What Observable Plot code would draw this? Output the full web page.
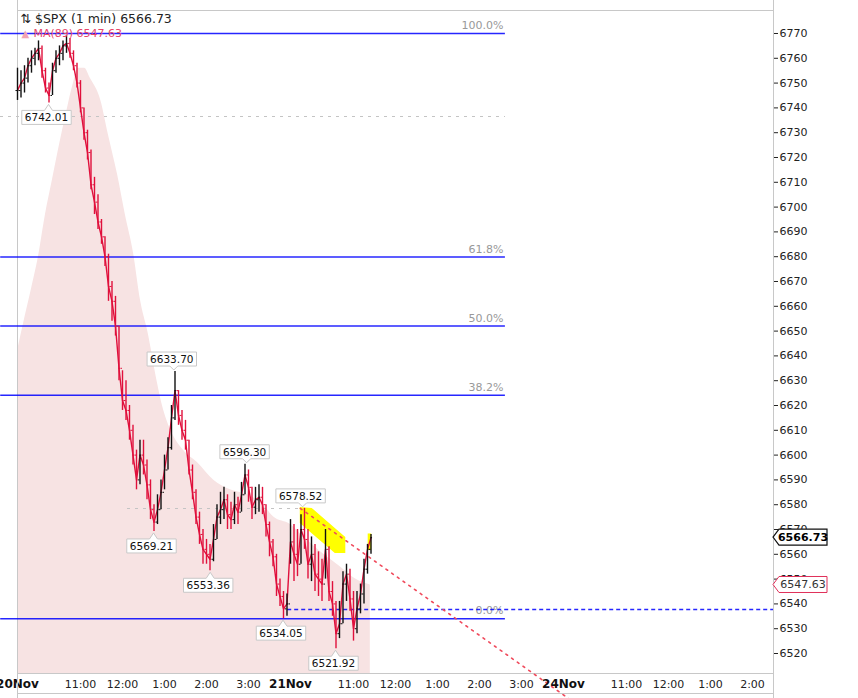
<!DOCTYPE html>
<html>
<head>
<meta charset="utf-8">
<script src="https://cdn.jsdelivr.net/npm/d3@7"></script>
<script src="https://cdn.jsdelivr.net/npm/@observablehq/plot@0.6"></script>
<style>
  html, body { margin: 0; padding: 0; background: #fff; }
  svg { display: block; }
</style>
</head>
<body>
<div id="chart"></div>
<script>
// ---------- DATA ----------
// 5-minute bars, session-minute index (20Nov 9:30 = 0, 21Nov 9:30 = 390)
const barHigh = [6756,6755,6757,6760,6763,6764,6767,6765,6756,6750,6758,6763,6765,6767,6769,6768,6763,6758,6751,6740,
  6731,6723,6712,6705,6695,6688,6681,6670,6664,6652,6634,6630,6620,6612,6602,6606,6606,6598,6590,6580,
  6584,6590,6600,6607,6620,6633.70,6626,6618,6614,6606,6596,6586,6577,6570,6566,6564,6572,6580,6585,6587,
  6584,6581,6585,6583,6589,6596.30,6594,6587,6587,6588,6587,6580,6573,6566,6560,6550,6545,6544,
  6574,6572,6570,6576,6578.52,6570,6567,6564,6561,6558,6570,6563,6549,6541,6541,6553,6556,6554,6545,6545,6548,6558,6564,6568];
const barLow = [6743,6744,6746,6750,6754,6757,6759,6752,6746,6742.01,6745,6754,6757,6759,6762,6760,6755,6748,6738,6727,
  6719,6707,6697,6691,6685,6676,6662,6654,6648,6630,6618,6614,6606,6596,6586,6588,6592,6582,6574,6569.21,
  6572,6578,6586,6594,6602,6614,6612,6606,6602,6592,6582,6572,6564,6556,6556,6553.36,6557,6566,6572,6574,
  6570,6570,6572,6572,6577,6584,6581,6574,6576,6577,6576,6567,6559,6555,6543,6539,6534.05,6535,
  6556,6549,6551,6556,6562,6550,6549,6545,6543,6541,6550,6541,6535,6521.92,6526,6532,6541,6537,6525,6528,6536,6540,6552,6560];
const barClose = [6747,6750,6752,6757,6760,6762,6764,6755,6748,6745,6755,6760,6762,6765,6766,6762,6757,6750,6740,6730,
  6722,6709,6702,6694,6688,6680,6668,6662,6652,6635,6622,6618,6610,6600,6590,6600,6596,6588,6578,6573,
  6578,6585,6594,6603,6615,6626,6616,6610,6606,6594,6585,6575,6568,6562,6560,6558,6566,6575,6578,6582,
  6576,6574,6580,6577,6584,6592,6587,6579,6582,6583,6580,6572,6565,6559,6548,6543,6538,6540,
  6565,6560,6556,6570,6566,6556,6560,6552,6550,6548,6562,6545,6540,6528,6532,6548,6552,6542,6530,6538,6544,6554,6562,6566.73];

// MA(89) shaded profile
const maIdx = [0,11,20,30,40,50,60,70,80,87,96,104,119,130,143,154,166,176,186,200,207,219,237,257,280,304,329,351,366,390,409,433,461,483,504];
const maVal = [6642,6656,6667,6680,6697,6711,6725,6738,6750,6756,6756,6752,6743,6729,6713,6697,6681,6662,6650,6629,6620,6610,6602,6597,6590,6586,6584,6580,6575,6572,6567,6561,6555,6550,6547.63];

// Fibonacci retracement
const fibHigh = 6770.0, fibLow = 6534.05;
const fibRatios = [1, 0.618, 0.5, 0.382, 0];
const fibLabels = ["100.0%", "61.8%", "50.0%", "38.2%", "0.0%"];
const fibStart = -24, fibEnd = 697;

// other lines
const supportLevel = 6537.7, supportStart = 386, supportEnd = 1080;
const greyDot1 = {level: 6736.5, start: -24, end: 697};
const greyDot2 = {level: 6578.52, start: 157, end: 404};
const trendIdx = [404, 800];
const trendVal = [6578.52, 6499.3];

// yellow highlight along trend line
const hlIdx = [404, 421, 454, 469];
const hlLo  = [6572.4, 6568.3, 6560.3, 6560.3];
const hlHi  = [6578.9, 6578.5, 6570.4, 6566.8];
const hlBar = {x1: 501, x2: 506, y1: 6561.5, y2: 6568.2};

// annotations (high/low callouts)
const annIdx  = [45, 224, 328, 408, 195, 276, 380, 455];
const annVal  = [6742.01, 6633.70, 6596.30, 6578.52, 6569.21, 6553.36, 6534.05, 6521.92];
const annText = ["6742.01", "6633.70", "6596.30", "6578.52", "6569.21", "6553.36", "6534.05", "6521.92"];
const annPos  = ["below", "above", "above", "above", "below", "below", "below", "below"];

// axis ticks
const yTicks = d3.range(6520, 6771, 10);
const hourIdx = [90,150,210,270,330, 480,540,600,660,720, 870,930,990,1050];
const hourLabels = ["11:00","12:00","1:00","2:00","3:00","11:00","12:00","1:00","2:00","3:00","11:00","12:00","1:00","2:00"];
const dayIdx = [0, 390, 780];
const dayLabels = ["20Nov", "21Nov", "24Nov"];

const lastPrice = 6566.73, maLast = 6547.63;
const legendMain = "⇅ $SPX (1 min) 6566.73";
const legendMA = "MA(89) 6547.63";

// ---------- BUILD ----------
const RED = "#e0103c", BLACK = "#111", BLUE = "#0000ff";
const yMin = 6511.94, yMax = 6779.27;
const bars = barClose.map((c, i) => ({
  t: i * 5, hi: barHigh[i], lo: barLow[i], c,
  o: i === 0 ? c : barClose[i - 1],
  up: i === 0 ? true : c >= barClose[i - 1]
}));
const upBars = bars.filter(d => d.up), dnBars = bars.filter(d => !d.up);
const ma = maIdx.map((t, i) => ({t, v: maVal[i]}));
const fibs = fibRatios.map((r, i) => ({v: fibLow + r * (fibHigh - fibLow), label: fibLabels[i]}));
const hl = hlIdx.map((t, i) => ({t, lo: hlLo[i], hi: hlHi[i]}));
const trend = trendIdx.map((t, i) => ({t, v: trendVal[i]}));

const plot = Plot.plot({
  width: 858, height: 698,
  marginLeft: 17, marginRight: 85, marginTop: 10, marginBottom: 25,
  style: {fontFamily: "DejaVu Sans, sans-serif", fontSize: "11px", background: "#fff", overflow: "visible"},
  x: {type: "linear", domain: [0, 1080], axis: null},
  y: {domain: [yMin, yMax], axis: null},
  marks: [
    Plot.areaY(ma, {x: "t", y1: () => yMin, y2: "v", fill: "#f7e3e3", curve: "monotone-x"}),
    Plot.frame({stroke: "#c8c8c8", shapeRendering: "crispEdges"}),
    Plot.ruleY([greyDot1], {y: "level", x1: "start", x2: "end", stroke: "#c4c4c4", strokeDasharray: "3,5", shapeRendering: "crispEdges"}),
    Plot.ruleY([greyDot2], {y: "level", x1: "start", x2: "end", stroke: "#c4c4c4", strokeDasharray: "3,5", shapeRendering: "crispEdges"}),
    Plot.ruleY(fibs, {y: "v", x1: fibStart, x2: fibEnd, stroke: BLUE, strokeWidth: 1.5, strokeOpacity: 0.85}),
    Plot.text(fibs, {x: fibEnd, y: "v", text: "label", textAnchor: "end", dx: -2, dy: -8, fill: "#999", fontSize: 11}),
    Plot.ruleY([supportLevel], {x1: supportStart, x2: supportEnd, stroke: BLUE, strokeWidth: 1.5, strokeOpacity: 0.85, strokeDasharray: "4,3"}),
    Plot.areaY(hl, {x: "t", y1: "lo", y2: "hi", fill: "#ffff00"}),
    Plot.rect([hlBar], {x1: "x1", x2: "x2", y1: "y1", y2: "y2", fill: "#ffff00"}),
    Plot.line(bars, {x: "t", y: "c", stroke: RED, strokeWidth: 1.4}),
    Plot.ruleX(dnBars, {x: "t", y1: "lo", y2: "hi", stroke: RED, strokeWidth: 1.4}),
    Plot.ruleX(upBars, {x: "t", y1: "lo", y2: "hi", stroke: BLACK, strokeWidth: 1.4}),
    Plot.ruleY(dnBars, {y: "c", x1: "t", x2: d => d.t + 2.2, stroke: RED}),
    Plot.ruleY(upBars, {y: "c", x1: "t", x2: d => d.t + 2.2, stroke: BLACK}),
    Plot.ruleY(dnBars, {y: "o", x1: d => d.t - 2.2, x2: "t", stroke: RED}),
    Plot.ruleY(upBars, {y: "o", x1: d => d.t - 2.2, x2: "t", stroke: BLACK}),
    Plot.line(trend, {x: "t", y: "v", stroke: "#f04a5c", strokeWidth: 1.6, strokeDasharray: "2,5"}),
    Plot.axisY({anchor: "right", ticks: yTicks, tickSize: 4, tickPadding: 2, tickFormat: d => String(d), fontSize: 11, color: "#222"}),
    Plot.text(hourLabels, {x: hourIdx, text: d => d, frameAnchor: "bottom", dy: 11, lineAnchor: "middle", fontSize: 11, fill: "#222"}),
    Plot.text(dayLabels, {x: dayIdx, text: d => d, frameAnchor: "bottom", dy: 11, lineAnchor: "middle", fontSize: 12, fontWeight: "bold", fill: "#111"}),
    Plot.text([legendMain], {frameAnchor: "top-left", text: d => d, dx: 3, dy: 8, lineAnchor: "middle", textAnchor: "start", fontSize: 12.5, fill: "#222"}),
    Plot.text(["▲"], {frameAnchor: "top-left", text: d => d, dx: 4, dy: 23, lineAnchor: "middle", textAnchor: "start", fontSize: 10, fill: "#f2a3b3"}),
    Plot.text([legendMA], {frameAnchor: "top-left", text: d => d, dx: 16, dy: 23, lineAnchor: "middle", textAnchor: "start", fontSize: 11, fill: "#e8456a"})
  ]
});
document.getElementById("chart").appendChild(plot);

// ---------- callouts & price tags (positioned through Plot's scales) ----------
const sx = plot.scale("x"), sy = plot.scale("y");
const X = v => sx.apply(v), Y = v => sy.apply(v);
const svg = d3.select(plot);
const g = svg.append("g").attr("font-family", "DejaVu Sans, sans-serif").attr("font-size", 10.5);

annIdx.forEach((t, i) => {
  const px = X(t), py = Y(annVal[i]);
  const cx = px - 2;
  const txt = g.append("text").attr("x", cx).attr("text-anchor", "middle").attr("fill", "#111").text(annText[i]);
  const w = txt.node().getComputedTextLength() + 6, h = 14;
  const l = cx - w / 2, r = cx + w / 2;
  let path, ty;
  if (annPos[i] === "below") {
    const top = py + 8, bot = top + h;
    path = `M${l},${top}L${px - 4},${top}L${px},${py + 2}L${px + 4},${top}L${r},${top}L${r},${bot}L${l},${bot}Z`;
    ty = top + h / 2;
  } else {
    const bot = py - 5, top = bot - h;
    path = `M${l},${top}L${r},${top}L${r},${bot}L${px + 4},${bot}L${px},${py - 1}L${px - 4},${bot}L${l},${bot}Z`;
    ty = top + h / 2;
  }
  g.insert("path", "text").attr("d", path).attr("fill", "#fff").attr("stroke", "#c8c8c8");
  txt.attr("y", ty).attr("dy", "0.36em");
});
g.selectAll("text").raise();

function priceTag(v, label, stroke, bold, color) {
  const py = Y(v), x0 = 773, x1 = 779, x2 = 827;
  g.append("path")
    .attr("d", `M${x0},${py}L${x1},${py - 8}L${x2},${py - 8}L${x2},${py + 8}L${x1},${py + 8}Z`)
    .attr("fill", "#fff").attr("stroke", stroke).attr("stroke-width", bold ? 1.2 : 1);
  g.append("text").attr("x", 803).attr("y", py).attr("dy", "0.36em").attr("text-anchor", "middle")
    .attr("font-size", 11).attr("font-weight", bold ? "bold" : "normal").attr("fill", color).text(label);
}
priceTag(lastPrice, lastPrice.toFixed(2), "#111", true, "#000");
priceTag(maLast, maLast.toFixed(2), "#e0305a", false, "#333");

// panel borders above and below the main pane
const lines = [[17, 0, 17, 10], [773, 0, 773, 10], [17, 693, 773, 693], [17, 673, 17, 698], [773, 673, 773, 698]];
lines.forEach(([a, b, c, d]) => svg.append("line").attr("x1", a).attr("y1", b).attr("x2", c).attr("y2", d).attr("stroke", "#c8c8c8").attr("shape-rendering", "crispEdges"));
</script>
</body>
</html>
